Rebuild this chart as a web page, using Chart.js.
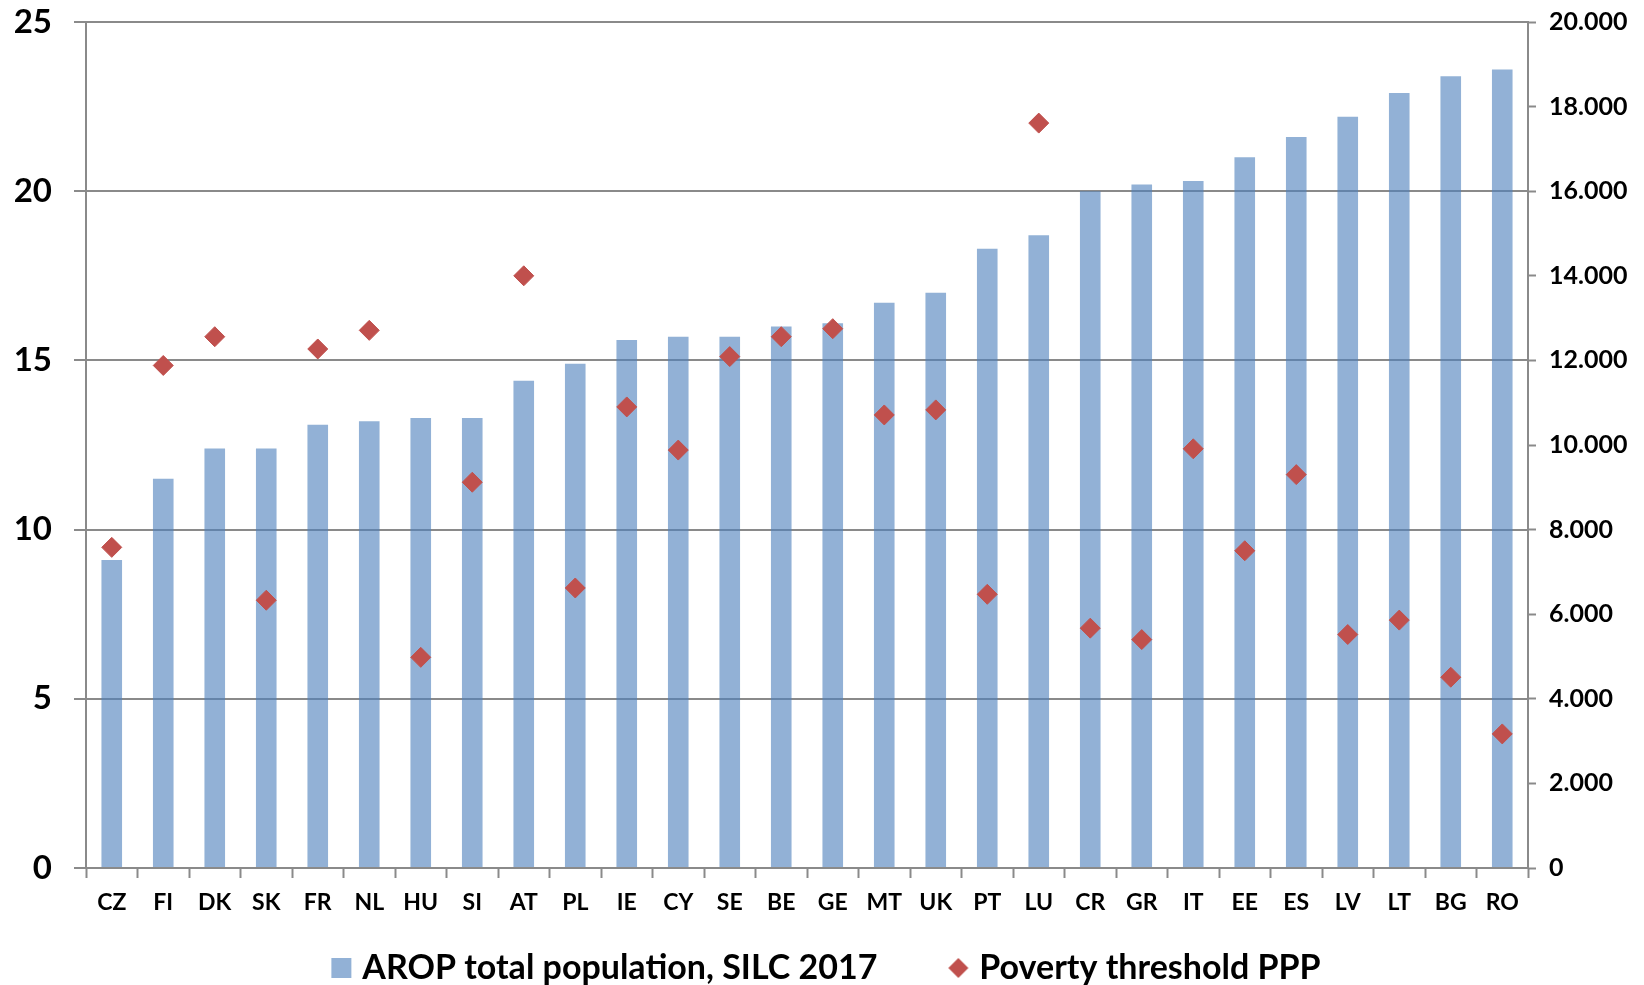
<!DOCTYPE html>
<html>
<head>
<meta charset="utf-8">
<script src="https://cdn.jsdelivr.net/npm/chart.js@4/dist/chart.umd.min.js"></script>
<style>
  html, body { margin: 0; padding: 0; background: #ffffff; }
  #wrap { width: 1644px; height: 985px; position: relative; }
</style>
</head>
<body>
<div id="wrap"><canvas id="chart"></canvas></div>
<script>
// Countries ordered by at-risk-of-poverty rate
const categories = ['CZ','FI','DK','SK','FR','NL','HU','SI','AT','PL','IE','CY','SE','BE','GE','MT','UK','PT','LU','CR','GR','IT','EE','ES','LV','LT','BG','RO'];

// At-risk-of-poverty rate, total population (%), SILC 2017
const aropRate = [9.1,11.5,12.4,12.4,13.1,13.2,13.3,13.3,14.4,14.9,15.6,15.7,15.7,16.0,16.1,16.7,17.0,18.3,18.7,20.0,20.2,20.3,21.0,21.6,22.2,22.9,23.4,23.6];

// Poverty threshold in PPP
const povertyThreshold = [7580,11880,12560,6330,12270,12710,4980,9120,14000,6620,10900,9880,12090,12560,12750,10710,10830,6470,17610,5670,5400,9910,7500,9300,5520,5860,4510,3170];

// Axis ranges
const leftTicks = { min: 0, max: 25, step: 5 };
const rightTicks = { min: 0, max: 20000, step: 2000 };

const seriesNames = ['AROP total population, SILC 2017', 'Poverty threshold PPP'];

const FONT = 'Lato, "Open Sans", sans-serif';
const GRID = '#8a8a8a';
const BAR_FILL = 'rgba(79,129,189,0.62)';
const MARKER = '#C0504D';

// Legend swatches: the icon sits at the right end of a wider transparent
// canvas so it stays close to its text while items keep their spacing.
const SWATCH_W = 62;
function makeIcon(kind) {
  const c = document.createElement('canvas');
  c.width = SWATCH_W + 16;
  c.height = 20;
  const g = c.getContext('2d');
  if (kind === 'square') {
    g.fillStyle = BAR_FILL;
    g.fillRect(c.width - 22, 0, 20, 20);
  } else {
    const cx = c.width - 12, cy = 10, r = 10;
    g.fillStyle = MARKER;
    g.beginPath();
    g.moveTo(cx, cy - r); g.lineTo(cx + r, cy); g.lineTo(cx, cy + r); g.lineTo(cx - r, cy);
    g.closePath(); g.fill();
  }
  return c;
}
const legendIcons = [makeIcon('square'), makeIcon('diamond')];

const fmtThousands = v => v === 0 ? '0' : String(v).replace(/\B(?=(\d{3})+(?!\d))/g, '.');

// Keep the vertical axes' label overhang from pushing the plot area down
const trimVerticalPadding = (scale, width) => {
  scale.width = width;
  scale.paddingTop = 18;
  scale.paddingBottom = 18;
};

new Chart(document.getElementById('chart'), {
  type: 'bar',
  data: {
    labels: categories,
    datasets: [
      {
        type: 'bar',
        label: seriesNames[0],
        data: aropRate,
        yAxisID: 'y',
        backgroundColor: BAR_FILL,
        borderWidth: 0,
        barPercentage: 0.4,
        categoryPercentage: 1.0,
        order: 2
      },
      {
        type: 'line',
        label: seriesNames[1],
        data: povertyThreshold,
        yAxisID: 'y1',
        showLine: false,
        pointStyle: 'rectRot',
        pointRadius: 10,
        pointHoverRadius: 10,
        pointBackgroundColor: MARKER,
        pointBorderColor: MARKER,
        pointBorderWidth: 1,
        backgroundColor: MARKER,
        borderColor: MARKER,
        order: 1
      }
    ]
  },
  options: {
    responsive: true,
    maintainAspectRatio: false,
    animation: false,
    layout: { padding: { top: 22, left: -40, right: 0, bottom: -10 } },
    plugins: {
      tooltip: { enabled: false },
      legend: {
        position: 'bottom',
        fullSize: true,
        labels: {
          usePointStyle: true,
          pointStyleWidth: SWATCH_W,
          boxHeight: 20,
          padding: 23,
          color: '#000',
          font: { family: FONT, size: 34, weight: 'bold' },
          sort: (a, b) => a.datasetIndex - b.datasetIndex,
          generateLabels(chart) {
            const items = Chart.defaults.plugins.legend.labels.generateLabels(chart);
            items.forEach(it => { it.pointStyle = legendIcons[it.datasetIndex]; it.rotation = 0; });
            return items;
          }
        }
      }
    },
    scales: {
      x: {
        offset: true,
        grid: {
          offset: true,
          drawOnChartArea: false,
          drawTicks: true,
          tickLength: 10,
          tickColor: GRID,
          tickWidth: 2
        },
        border: { display: true, color: GRID, width: 2 },
        ticks: {
          color: '#000',
          padding: 11,
          autoSkip: false,
          maxRotation: 0,
          font: { family: FONT, size: 23, weight: 'bold' }
        },
        afterFit(scale) { scale.height = 60; }
      },
      y: {
        position: 'left',
        min: leftTicks.min,
        max: leftTicks.max,
        grid: {
          color: GRID,
          lineWidth: 2,
          drawTicks: true,
          tickLength: 12,
          tickColor: GRID,
          tickWidth: 2
        },
        border: { display: true, color: GRID, width: 2 },
        ticks: {
          stepSize: leftTicks.step,
          color: '#000',
          padding: 22,
          font: { family: FONT, size: 33, weight: 'bold' }
        },
        afterFit(scale) { trimVerticalPadding(scale, 126); }
      },
      y1: {
        position: 'right',
        min: rightTicks.min,
        max: rightTicks.max,
        grid: {
          drawOnChartArea: false,
          drawTicks: true,
          tickLength: 8,
          tickColor: GRID,
          tickWidth: 2
        },
        border: { display: true, color: GRID, width: 2 },
        ticks: {
          stepSize: rightTicks.step,
          color: '#000',
          padding: 13,
          font: { family: FONT, size: 25, weight: 'bold' },
          callback: v => fmtThousands(v)
        },
        afterFit(scale) { trimVerticalPadding(scale, 116); }
      }
    }
  }
});
</script>
</body>
</html>
